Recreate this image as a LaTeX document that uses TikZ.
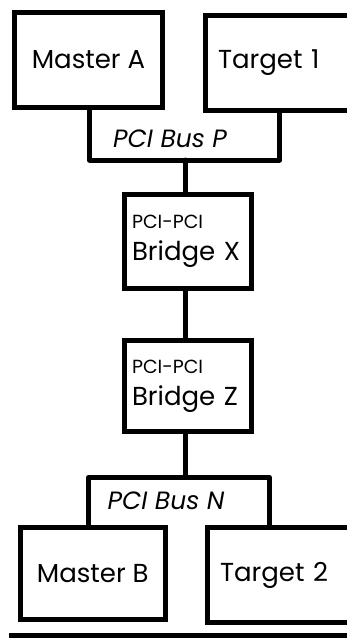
\documentclass[tikz,border=0pt]{standalone}
\usepackage{fontspec}
\setmainfont{Poppins}
\usetikzlibrary{positioning}
\tikzset{
  unit/.style={draw, line width=5pt, rectangle, inner sep=0pt, font=\fontsize{26}{30}\selectfont},
  target/.style={unit, anchor=west, text width=150pt, inner xsep=13pt, align=left},
  bridge/.style={unit, minimum width=126.5pt, text width=111.5pt, inner xsep=7.5pt, align=left},
  buslabel/.style={font=\fontsize{25}{29}\selectfont\itshape},
  bus/.style={line width=5pt, line cap=round, line join=round},
}
\newcommand{\smallpci}{{\fontsize{19}{21}\selectfont PCI-PCI}}

\begin{document}
\begin{tikzpicture}[x=1pt,y=-1pt]
    \useasboundingbox[fill=white] (0,0) rectangle (347,638);
    % top side
    \node[unit, minimum width=148pt, minimum height=94.5pt] (mA) at (88.5,59.75) {Master A};
    \node[target, minimum height=95pt] (tA) at (202.5,62.5) {Target 1};
    \node[buslabel] (busP) at (170,139) {PCI Bus P};
    \coordinate (pL) at (89.5,160);
    \coordinate (pR) at (279.5,160);
    \coordinate (pM) at (185.5,160);
    % bridges
    \node[bridge, minimum height=94pt] (bX) at (187.75,241.5) {\smallpci\\[2pt]Bridge X};
    \node[bridge, minimum height=91pt] (bZ) at (187.75,386) {\smallpci\\[2pt]Bridge Z};
    % bottom side
    \node[buslabel] (busN) at (166,501) {PCI Bus N};
    \coordinate (nL) at (88.5,477.5);
    \coordinate (nR) at (269.5,477.5);
    \coordinate (nM) at (185.5,477.5);
    \node[unit, minimum width=145.5pt, minimum height=92pt] (mB) at (92.75,573.5) {Master B};
    \node[target, minimum height=95pt] (tB) at (204.5,575) {Target 2};
    % buses
    \draw[bus] (pL |- mA.south) -- (pL) -- (pR) -- (pR |- tA.south);
    \draw[bus] (pM) -- (pM |- bX.north);
    \draw[bus] (pM |- bX.south) -- (pM |- bZ.north);
    \draw[bus] (nM |- bZ.south) -- (nM);
    \draw[bus] (nL |- mB.north) -- (nL) -- (nR) -- (nR |- tB.north);
    \draw[line width=6pt] (9,636) -- (350,636);
\end{tikzpicture}
\end{document}
